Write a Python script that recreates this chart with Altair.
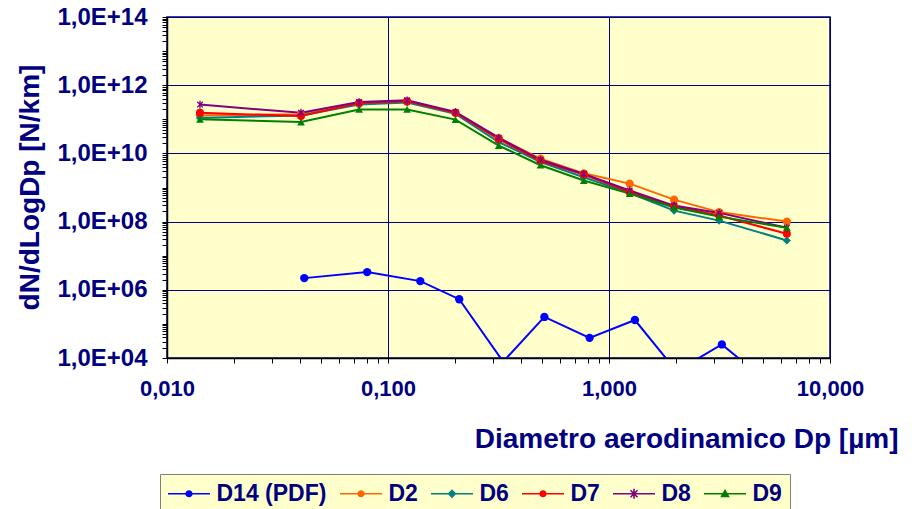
import math
import altair as alt
import pandas as pd

# ---------------- data ----------------
series_names = ["D14 (PDF)", "D2", "D6", "D7", "D8", "D9"]
series_colors = ["#0000FF", "#FF6600", "#008080", "#FF0000", "#800080", "#008000"]

dp_d14 = [0.0418, 0.0805, 0.140, 0.210, 0.332, 0.51, 0.817, 1.31, 2.02, 3.24, 5.2]
n_d14 = [2.2e6, 3.3e6, 1.8e6, 5.3e5, 7.8e3, 1.6e5, 3.9e4, 1.3e5, 4.1e3, 2.5e4, 2.0e3]

dp_main = [0.0141, 0.0404, 0.074, 0.122, 0.202, 0.317, 0.490, 0.769, 1.24, 1.97, 3.15, 6.38]
n_d2 = [1.3e11, 1.4e11, 2.9e11, 3.3e11, 1.55e11, 2.8e10, 7.0e9, 2.6e9, 1.3e9, 4.4e8, 1.9e8, 1.0e8]
n_d6 = [1.1e11, 1.3e11, 2.7e11, 3.1e11, 1.45e11, 2.15e10, 5.6e9, 2.0e9, 6.9e8, 2.1e8, 1.07e8, 2.8e7]
n_d7 = [1.55e11, 1.24e11, 3.0e11, 3.4e11, 1.55e11, 2.6e10, 6.0e9, 2.4e9, 7.3e8, 2.8e8, 1.5e8, 4.4e7]
n_d8 = [2.7e11, 1.55e11, 3.2e11, 3.6e11, 1.65e11, 2.9e10, 6.5e9, 2.5e9, 8.2e8, 2.95e8, 1.8e8, 6.6e7]
n_d9 = [1.0e11, 8.3e10, 1.95e11, 1.95e11, 9.8e10, 1.7e10, 4.5e9, 1.6e9, 6.6e8, 2.6e8, 1.4e8, 6.6e7]

x_tick_exponents = [-2, -1, 0]
y_tick_exponents = list(range(4, 14))

x_title = "Diametro aerodinamico Dp [µm]"
y_title = "dN/dLogDp  [N/km]"

# ---------------- table ----------------
rows = []
for x, v in zip(dp_d14, n_d14):
    rows.append({"series": "D14 (PDF)", "dp": x, "n": v})
for name, vals in [("D2", n_d2), ("D6", n_d6), ("D7", n_d7), ("D8", n_d8), ("D9", n_d9)]:
    for x, v in zip(dp_main, vals):
        rows.append({"series": name, "dp": x, "n": v})
df = pd.DataFrame(rows)

# ---------------- marker paths ----------------
def bar(hw, hl, ang):
    a = math.radians(ang)
    c, s = math.cos(a), math.sin(a)
    pts = [(-hw, -hl), (hw, -hl), (hw, hl), (-hw, hl)]
    pts = [(x * c - y * s, x * s + y * c) for x, y in pts]
    return "M" + "L".join(f"{x:.3f},{y:.3f}" for x, y in pts) + "Z"

def circle(r):
    return f"M{r:.3f},0A{r:.3f},{r:.3f} 0 1 1 {-r:.3f},0A{r:.3f},{r:.3f} 0 1 1 {r:.3f},0Z"

star_plot = bar(0.17, 1.0, 0) + bar(0.17, 1.0, 45) + bar(0.17, 1.0, -45)
plot_shapes = ["circle", "circle", "diamond", "circle", star_plot, "triangle-up"]
plot_sizes = [70, 60, 75, 60, 110, 120]

seg = bar(0.1, 2.625, 90)
leg_marks = [
    circle(0.45),
    circle(0.45),
    "M0,-0.55L0.55,0L0,0.55L-0.55,0Z",
    circle(0.45),
    bar(0.1, 0.62, 0) + bar(0.1, 0.62, 45) + bar(0.1, 0.62, -45),
    "M0,-0.6L0.6,0.45L-0.6,0.45Z",
]
leg_shapes = [seg + m for m in leg_marks]

# ---------------- axes ----------------
x_vals = []
for e in x_tick_exponents:
    for m in range(1, 10):
        x_vals.append(round(m * 10 ** e, 6))
x_vals.append(10)

y_vals = []
for e in y_tick_exponents:
    for m in range(1, 10):
        y_vals.append(m * 10 ** e)
y_vals.append(10 ** 14)

LG = "(log(datum.value)/LN10)"
is_major = f"abs({LG} - round({LG})) < 0.0001"
is_major_y = f"{is_major} && round({LG}) % 2 == 0"

FONT = "Liberation Sans"
NAVY = "#000080"

x_axis = alt.Axis(
    values=x_vals,
    labelExpr=f"({is_major}) ? replace(format(datum.value, '.3f'), '.', ',') : ''",
    grid=True,
    gridColor=NAVY,
    gridWidth=1,
    gridOpacity={"condition": {"test": is_major, "value": 1}, "value": 0},
    tickSize=5,
    tickColor="#000000",
    domainColor="#000000",
    domainWidth=1.5,
    labelFont=FONT,
    labelFontSize=22,
    labelFontWeight="bold",
    labelColor=NAVY,
    labelPadding=15,
    labelOverlap=False,
    labelFlush=False,
    labelBaseline="top",
    title=x_title,
    titleFont=FONT,
    titleFontSize=28,
    titleFontWeight="bold",
    titleColor=NAVY,
    titleAlign="right",
    titleBaseline="alphabetic",
    titleX=731,
    titleY=89,
)

y_axis = alt.Axis(
    values=y_vals,
    labelExpr=f"({is_major_y}) ? '1,0E+' + (round({LG}) < 10 ? '0' : '') + round({LG}) : ''",
    grid=True,
    gridColor=NAVY,
    gridWidth=1,
    gridOpacity={"condition": {"test": is_major_y, "value": 1}, "value": 0},
    tickSize=5,
    tickColor="#000000",
    domainColor="#000000",
    domainWidth=1.5,
    labelFont=FONT,
    labelFontSize=24,
    labelFontWeight="bold",
    labelColor=NAVY,
    labelPadding=15,
    labelOverlap=False,
    labelFlush=False,
    title=y_title,
    titleFont=FONT,
    titleFontSize=28,
    titleFontWeight="bold",
    titleColor=NAVY,
    titleAngle=270,
    titleAlign="center",
    titleBaseline="alphabetic",
    titleX=-129,
    titleY=170,
)

X = alt.X("dp:Q", scale=alt.Scale(type="log", domain=[0.01, 10], nice=False), axis=x_axis)
Y = alt.Y("n:Q", scale=alt.Scale(type="log", domain=[1e4, 1e14], nice=False), axis=y_axis)

color_scale = alt.Scale(domain=series_names, range=series_colors)

lines = alt.Chart(df).mark_line(strokeWidth=2, clip=True).encode(
    x=X, y=Y,
    color=alt.Color("series:N", scale=color_scale, legend=None),
)

points = alt.Chart(df).mark_point(filled=True, opacity=1, strokeWidth=0, clip=True).encode(
    x=X, y=Y,
    color=alt.Color("series:N", scale=color_scale, legend=None),
    shape=alt.Shape("series:N", scale=alt.Scale(domain=series_names, range=plot_shapes), legend=None),
    size=alt.Size("series:N", scale=alt.Scale(domain=series_names, range=plot_sizes), legend=None),
)

leg = alt.Legend(
    orient="none",
    legendX=-7,
    legendY=457,
    direction="horizontal",
    columns=6,
    title=None,
    fillColor="#FFFFCC",
    strokeColor="#808080",
    padding=8,
    symbolSize=256,
    symbolStrokeWidth=0,
    symbolOffset=9.5,
    labelOffset=16,
    columnPadding=13,
    labelFont=FONT,
    labelFontSize=23,
    labelFontWeight="bold",
    labelColor=NAVY,
    labelLimit=0,
)

legend_layer = alt.Chart(df).transform_filter("false").mark_point(filled=True, opacity=1).encode(
    x=X, y=Y,
    color=alt.Color("series:N", scale=alt.Scale(domain=series_names, range=series_colors), legend=leg),
    shape=alt.Shape("series:N", scale=alt.Scale(domain=series_names, range=leg_shapes), legend=leg),
)

chart = (
    alt.layer(lines, points, legend_layer)
    .resolve_scale(color="independent", shape="independent", size="independent")
    .properties(
        width=663,
        height=341,
        padding={"left": 159, "top": 9, "right": 70, "bottom": 160},
        autosize=alt.AutoSizeParams(type="none"),
        background="#FFFFFF",
    )
    .configure_view(fill="#FFFFCC", stroke=NAVY, strokeWidth=1.5)
)

chart.save("out.html", embed_options={"renderer": "svg", "actions": False})
